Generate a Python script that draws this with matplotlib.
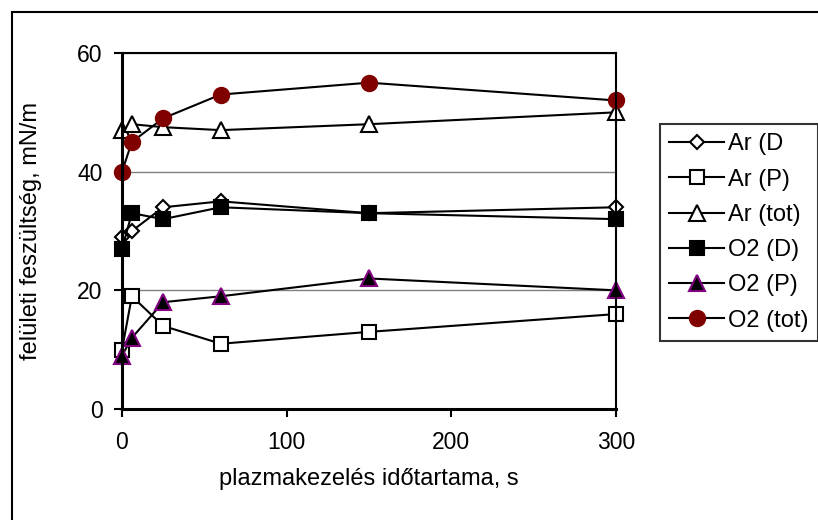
import matplotlib
matplotlib.use("Agg")
import matplotlib.pyplot as plt
from matplotlib.patches import Rectangle

plt.rcParams['font.family'] = ['Liberation Sans', 'DejaVu Sans']

# plasma treatment time, s
time_s = [0, 6, 25, 60, 150, 300]

ar_d = [29, 30, 34, 35, 33, 34]
ar_p = [10, 19, 14, 11, 13, 16]
ar_tot = [47, 48, 47.5, 47, 48, 50]
o2_d = [27, 33, 32, 34, 33, 32]
o2_p = [9, 12, 18, 19, 22, 20]
o2_tot = [40, 45, 49, 53, 55, 52]

labels = ['Ar (D', 'Ar (P)', 'Ar (tot)', 'O2 (D)', 'O2 (P)', 'O2 (tot)']

fig = plt.figure(figsize=(8.18, 5.20), dpi=100)
ax = fig.add_axes([122 / 818, 111 / 520, 494 / 818, 356 / 520])

# figure frame (runs off the right and bottom edges like the source)
fig.patches.append(Rectangle((12 / 818, -0.1), 1.2, 1.1 - 12 / 520, transform=fig.transFigure,
                             fill=False, edgecolor='black', linewidth=1.5, clip_on=False))

common = dict(color='black', linewidth=1.5, markeredgewidth=1.5, clip_on=False)
ax.plot(time_s, ar_d, marker='D', markersize=7.5, markerfacecolor='white', markeredgecolor='black',
        label=labels[0], **common)
ax.plot(time_s, ar_p, marker='s', markersize=10, markerfacecolor='white', markeredgecolor='black',
        label=labels[1], **common)
ax.plot(time_s, ar_tot, marker='^', markersize=11, markerfacecolor='white', markeredgecolor='black',
        label=labels[2], **common)
ax.plot(time_s, o2_d, marker='s', markersize=10, markerfacecolor='black', markeredgecolor='black',
        label=labels[3], **common)
ax.plot(time_s, o2_p, marker='^', markersize=11, markerfacecolor='black', markeredgecolor='#800080',
        label=labels[4], **common)
ax.plot(time_s, o2_tot, marker='o', markersize=11, markerfacecolor='#800000', markeredgecolor='#800000',
        label=labels[5], **common)

ax.set_xlim(0, 300)
ax.set_ylim(0, 60)
ax.set_xticks([0, 100, 200, 300])
ax.set_yticks([0, 20, 40, 60])
ax.yaxis.grid(True, color='#808080', linewidth=1)
ax.set_axisbelow(True)

for side in ['left', 'bottom']:
    ax.spines[side].set_linewidth(2.2)
for side in ['top', 'right']:
    ax.spines[side].set_linewidth(1.5)

ax.tick_params(axis='both', direction='out', length=6, width=1.5, labelsize=16.5, colors='black')
ax.tick_params(axis='y', pad=8)
ax.tick_params(axis='x', pad=10)

ax.set_xlabel('plazmakezelés időtartama, s', fontsize=17)
ax.xaxis.set_label_coords(0.5, -0.165)
ax.set_ylabel('felületi feszültség, mN/m', fontsize=17)
ax.yaxis.set_label_coords(-0.162, 0.5)

leg = ax.legend(loc='upper left', bbox_to_anchor=(660 / 818, 1 - 124 / 520), bbox_transform=fig.transFigure,
                fontsize=17, frameon=True, fancybox=False, edgecolor='black', borderaxespad=0,
                handlelength=2.3, handletextpad=0.2, labelspacing=0.56, borderpad=0.4)
leg.get_frame().set_linewidth(1.5)

fig.savefig('out.png', dpi=100)
